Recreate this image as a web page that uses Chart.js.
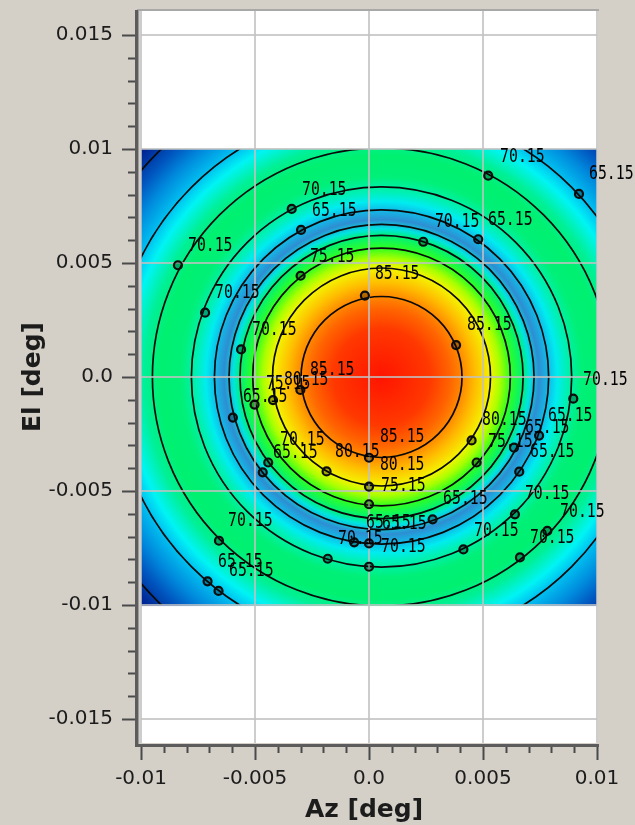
<!DOCTYPE html>
<html>
<head>
<meta charset="utf-8">
<script src="https://cdn.jsdelivr.net/npm/chart.js@4.4.1/dist/chart.umd.min.js"></script>
<style>
  html, body { margin: 0; padding: 0; background: #d4d0c8; }
  canvas { display: block; }
</style>
</head>
<body>
<canvas id="chart" width="635" height="825"></canvas>
<script>
// beam centre and size of the computed map (deg)
const beamAz = 0.00055;
const beamEl = 0.0;
const mapHalfSize = 0.01;

// radial colour profile of the map, radius from beam centre (deg)
const ringRadius = [0, 0.0021, 0.0030, 0.00353, 0.0041, 0.00478, 0.0052, 0.00565, 0.00621, 0.0065,
                    0.0069, 0.00733, 0.0077, 0.0081, 0.0088, 0.0097, 0.0104, 0.0112, 0.01178, 0.0127,
                    0.0134, 0.0140, 0.0146];
const ringColor = ["#ff1400", "#ff3800", "#ff6400", "#ff8800", "#ffbc00", "#f4f400", "#a8ff00", "#30ff20", "#00f07a", "#00e4e0",
                   "#2e8ed2", "#10bce8", "#00ecf0", "#00f0b8", "#00f078", "#00f070", "#00f098", "#00f4f4", "#00c0f0", "#0088dc",
                   "#0058c0", "#0038a4", "#001c8c"];

// contour circles
const contourRadius = [0.00353, 0.00478, 0.00565, 0.00621, 0.00669, 0.00733, 0.00834, 0.01005, 0.01178, 0.0139];
const contourLevel = [85.15, 80.15, 75.15, 70.15, 65.15, 65.15, 70.15, 70.15, 65.15, 60.15];

// sample points on the contours
const markerAz = [-0.00339, -0.00298, -0.00838, -0.00300, 0.00523, 0.00921, 0.00479, 0.00238, -0.00018, -0.00719,
                  -0.00561, -0.00502, -0.00421, -0.00301, -0.00597, -0.00442, -0.00466, -0.00186, 0.0, 0.0,
                  0.0, -0.00065, 0.0, 0.0, -0.00181, 0.00279, 0.00414, 0.00640, 0.00782, 0.00662,
                  0.00382, 0.00450, 0.00472, 0.00636, 0.00746, 0.00659, 0.00896, -0.00658, -0.00708, -0.00660];
const markerEl = [0.00737, 0.00645, 0.00490, 0.00444, 0.00883, 0.00803, 0.00604, 0.00593, 0.00357, 0.00282,
                  0.00121, -0.00121, -0.00101, -0.00057, -0.00178, -0.00375, -0.00418, -0.00414, -0.00354, -0.00481,
                  -0.00558, -0.00725, -0.00730, -0.00832, -0.00797, -0.00624, -0.00756, -0.00602, -0.00675, -0.00791,
                  0.00140, -0.00278, -0.00375, -0.00310, -0.00257, -0.00415, -0.00095, -0.00718, -0.00896, -0.00938];

// contour level labels (left end, middle of text)
const labelAz = [0.00575, 0.00965, -0.00294, -0.00250, -0.00794, -0.00259, 0.00289, 0.00522, 0.00026, -0.00675,
                 -0.00513, 0.00430, -0.00259, -0.00452, -0.00373, -0.00553, -0.00390, -0.00421, -0.00149, 0.00048,
                 0.00048, 0.00053, 0.00325, -0.00013, 0.00057, -0.00136, 0.00053, 0.00461, 0.00496, 0.00684,
                 0.00785, 0.00522, 0.00706, 0.00939, 0.00684, 0.00838, 0.00706, -0.00618, -0.00662, -0.00614];
const labelEl = [0.00965, 0.00890, 0.00820, 0.00728, 0.00575, 0.00526, 0.00680, 0.00689, 0.00452, 0.00368,
                 0.00206, 0.00228, 0.00031, -0.00031, -0.00013, -0.00088, -0.00276, -0.00333, -0.00329, -0.00263,
                 -0.00386, -0.00478, -0.00535, -0.00640, -0.00645, -0.00711, -0.00746, -0.00675, -0.00189, -0.00224,
                 -0.00171, -0.00285, -0.00329, -0.00013, -0.00513, -0.00592, -0.00706, -0.00632, -0.00811, -0.00851];
const labelText = ["70.15", "65.15", "70.15", "65.15", "70.15", "75.15", "70.15", "65.15", "85.15", "70.15",
                   "70.15", "85.15", "85.15", "75.15", "80.15", "65.15", "70.15", "65.15", "80.15", "85.15",
                   "80.15", "75.15", "65.15", "65.15", "65.15", "70.15", "70.15", "70.15", "80.15", "65.15",
                   "65.15", "75.15", "65.15", "70.15", "70.15", "70.15", "70.15", "70.15", "65.15", "65.15"];

// axes
const xTickValues = [-0.01, -0.005, 0, 0.005, 0.01];
const xTickLabels = ["-0.01", "-0.005", "0.0", "0.005", "0.01"];
const yTickValues = [-0.015, -0.01, -0.005, 0, 0.005, 0.01, 0.015];
const yTickLabels = ["-0.015", "-0.01", "-0.005", "0.0", "0.005", "0.01", "0.015"];
const minorPerMajor = 4;
const xTitle = "Az [deg]";
const yTitle = "El [deg]";

const BG = "#d4d0c8";
const GRID = "rgba(192,192,192,0.8)";
const TEXT = "#1c1c1c";

// majors plus evenly spaced minors, as Chart.js tick objects
function buildTicks(values, labels) {
    const out = [];
    values.forEach((v, i) => {
        out.push({ value: v, major: true, text: labels[i] });
        if (i === values.length - 1) return;
        const step = (values[i + 1] - v) / (minorPerMajor + 1);
        for (let k = 1; k <= minorPerMajor; k++) out.push({ value: v + step * k, major: false, text: "" });
    });
    return out;
}

const heatMap = {
    id: "heatMap",
    beforeDraw(chart) {
        const { ctx, chartArea: a, scales: { x, y } } = chart;
        ctx.save();
        ctx.fillStyle = BG;
        ctx.fillRect(0, 0, chart.width, chart.height);
        ctx.fillStyle = "#ffffff";
        ctx.fillRect(a.left - 1, a.top, a.right - a.left + 2, a.bottom - a.top);

        const left = x.getPixelForValue(-mapHalfSize);
        const right = x.getPixelForValue(mapHalfSize);
        const top = y.getPixelForValue(mapHalfSize);
        const bottom = y.getPixelForValue(-mapHalfSize);
        const pxPerDeg = (right - left) / (2 * mapHalfSize);
        const cx = x.getPixelForValue(beamAz);
        const cy = y.getPixelForValue(beamEl);
        const rMax = ringRadius[ringRadius.length - 1];

        const grad = ctx.createRadialGradient(cx, cy, 0, cx, cy, rMax * pxPerDeg);
        ringRadius.forEach((r, i) => grad.addColorStop(r / rMax, ringColor[i]));
        ctx.fillStyle = grad;
        ctx.fillRect(left, top, right - left, bottom - top + 1);

        ctx.beginPath();
        ctx.rect(left, top, right - left, bottom - top);
        ctx.clip();
        ctx.strokeStyle = "#0a0a0a";
        ctx.lineWidth = 1.7;
        contourRadius.forEach(r => {
            ctx.beginPath();
            ctx.arc(cx, cy, r * pxPerDeg, 0, Math.PI * 2);
            ctx.stroke();
        });
        ctx.restore();
    }
};

const levelLabels = {
    id: "levelLabels",
    afterDatasetsDraw(chart) {
        const { ctx, scales: { x, y } } = chart;
        ctx.save();
        ctx.fillStyle = "#000";
        ctx.font = '14.8px "DejaVu Sans Mono"';
        ctx.textBaseline = "middle";
        ctx.textAlign = "left";
        labelText.forEach((t, i) => {
            ctx.save();
            ctx.translate(x.getPixelForValue(labelAz[i]), y.getPixelForValue(labelEl[i]));
            ctx.scale(1, 1.3);
            ctx.fillText(t, 0, 0);
            ctx.restore();
        });
        ctx.restore();
    }
};

const frame = {
    id: "frame",
    afterDraw(chart) {
        const { ctx, chartArea: a, scales: { x, y } } = chart;
        ctx.save();
        // sunken border
        ctx.fillStyle = "#a8a8a8";
        ctx.fillRect(a.left - 4, a.top - 2, a.right - a.left + 6, 2);
        ctx.fillStyle = "#5c5c5c";
        ctx.fillRect(a.left - 6, a.top - 1, 3, a.bottom - a.top + 5);
        ctx.fillRect(a.left - 6, a.bottom + 1, a.right - a.left + 8, 3);
        ctx.fillStyle = "#9c9c9c";
        ctx.fillRect(a.left - 3, a.top - 1, 1, a.bottom - a.top + 2);

        // tick marks
        ctx.strokeStyle = "#4a4a4a";
        ctx.lineWidth = 2;
        y.ticks.forEach(t => {
            const py = Math.round(y.getPixelForValue(t.value)) + 0.5;
            ctx.beginPath();
            ctx.moveTo(a.left - 6, py);
            ctx.lineTo(a.left - (t.major ? 19 : 13), py);
            ctx.stroke();
        });
        x.ticks.forEach(t => {
            const px = Math.round(x.getPixelForValue(t.value)) + 0.5;
            ctx.beginPath();
            ctx.moveTo(px, a.bottom + 4);
            ctx.lineTo(px, a.bottom + (t.major ? 17 : 10));
            ctx.stroke();
        });

        // axis titles
        ctx.fillStyle = TEXT;
        ctx.font = 'bold 25px "DejaVu Sans"';
        ctx.textAlign = "center";
        ctx.textBaseline = "alphabetic";
        ctx.fillText(xTitle, (a.left + a.right) / 2 - 5, 817);
        ctx.translate(40, (a.top + a.bottom) / 2);
        ctx.rotate(-Math.PI / 2);
        ctx.fillText(yTitle, 0, 0);
        ctx.restore();
    }
};

const tickFont = { family: "DejaVu Sans", size: 20 };

new Chart(document.getElementById("chart"), {
    type: "scatter",
    data: {
        datasets: [{
            label: "samples",
            data: markerAz.map((az, i) => ({ x: az, y: markerEl[i] })),
            pointRadius: 4,
            pointBorderWidth: 2.2,
            pointBorderColor: "#0c0c0c",
            pointBackgroundColor: "rgba(0,0,0,0.3)",
            showLine: false
        }]
    },
    options: {
        responsive: false,
        animation: false,
        devicePixelRatio: 1,
        layout: { padding: { top: 11, right: 38, left: 0, bottom: 0 } },
        plugins: { legend: { display: false }, tooltip: { enabled: false } },
        scales: {
            x: {
                type: "linear",
                min: -0.01,
                max: 0.01,
                afterBuildTicks: s => { s.ticks = buildTicks(xTickValues, xTickLabels); },
                afterFit: s => { s.height = 82; s.paddingLeft = 0; s.paddingRight = 0; },
                ticks: {
                    autoSkip: false,
                    maxRotation: 0,
                    padding: 24,
                    color: TEXT,
                    font: tickFont,
                    callback: (v, i, ticks) => ticks[i].text
                },
                grid: {
                    drawTicks: false,
                    lineWidth: 2,
                    color: c => (c.tick && c.tick.major ? GRID : "rgba(0,0,0,0)")
                },
                border: { display: false }
            },
            y: {
                type: "linear",
                min: -0.01605,
                max: 0.01605,
                afterBuildTicks: s => { s.ticks = buildTicks(yTickValues, yTickLabels); },
                afterFit: s => { s.width = 141; s.paddingTop = 0; s.paddingBottom = 0; },
                ticks: {
                    autoSkip: false,
                    padding: 28,
                    color: TEXT,
                    font: tickFont,
                    callback: (v, i, ticks) => ticks[i].text
                },
                grid: {
                    drawTicks: false,
                    lineWidth: 2,
                    color: c => (c.tick && c.tick.major ? GRID : "rgba(0,0,0,0)")
                },
                border: { display: false }
            }
        }
    },
    plugins: [heatMap, levelLabels, frame]
});
</script>
</body>
</html>
